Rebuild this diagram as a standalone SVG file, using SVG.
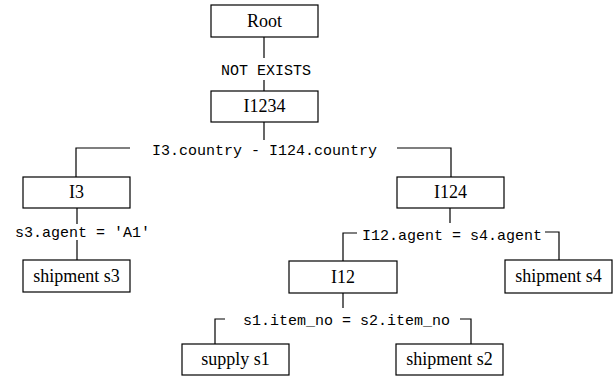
<svg xmlns="http://www.w3.org/2000/svg" width="614" height="377" viewBox="0 0 614 377">
<style>
.box{fill:#fff;stroke:#000;stroke-width:1.2}
.lbl{font-family:"Liberation Serif",serif;font-size:18px;text-anchor:middle;fill:#000}
.cond{font-family:"Liberation Mono",monospace;font-size:15px;fill:#000}
.ln{fill:none;stroke:#000;stroke-width:1.2}
</style>
<rect width="614" height="377" fill="#fff"/>
<g id="connectors">
<line class="ln" x1="264" y1="37" x2="264" y2="58"/>
<text class="cond" x="266" y="75" text-anchor="middle">NOT EXISTS</text>
<line class="ln" x1="264" y1="80" x2="264" y2="91"/>
<line class="ln" x1="264" y1="122" x2="264" y2="140"/>
<text class="cond" x="264.5" y="155" text-anchor="middle">I3.country - I124.country</text>
<polyline class="ln" points="130,148 76,148 76,177"/>
<polyline class="ln" points="397,148 451,148 451,177"/>
<line class="ln" x1="77" y1="208" x2="77" y2="224"/>
<text class="cond" x="15" y="237">s3.agent = 'A1'</text>
<line class="ln" x1="77" y1="240" x2="77" y2="260"/>
<line class="ln" x1="450" y1="208" x2="450" y2="223"/>
<text class="cond" x="362" y="240">I12.agent = s4.agent</text>
<polyline class="ln" points="357,233 343,233 343,261"/>
<polyline class="ln" points="545,232 559,232 559,260"/>
<line class="ln" x1="343" y1="293" x2="343" y2="308"/>
<text class="cond" x="243" y="325">s1.item_no = s2.item_no</text>
<polyline class="ln" points="225,319 215,319 215,344"/>
<polyline class="ln" points="460,319 471,319 471,344"/>
</g>
<g id="root"><rect class="box" x="211" y="5" width="107" height="32"/><text class="lbl" x="264.5" y="27">Root</text></g>
<g id="i1234"><rect class="box" x="211" y="91" width="107" height="31"/><text class="lbl" x="264.5" y="112">I1234</text></g>
<g id="i3"><rect class="box" x="23" y="177" width="107" height="31"/><text class="lbl" x="76.5" y="198">I3</text></g>
<g id="shipment-s3"><rect class="box" x="23" y="260" width="107" height="32"/><text class="lbl" x="76.5" y="282">shipment s3</text></g>
<g id="i124"><rect class="box" x="397" y="177" width="107" height="31"/><text class="lbl" x="450.5" y="198">I124</text></g>
<g id="i12"><rect class="box" x="289" y="261" width="108" height="32"/><text class="lbl" x="343" y="283">I12</text></g>
<g id="shipment-s4"><rect class="box" x="505" y="260" width="107" height="33"/><text class="lbl" x="558.5" y="282">shipment s4</text></g>
<g id="supply-s1"><rect class="box" x="182" y="344" width="107" height="31"/><text class="lbl" x="235.5" y="365">supply s1</text></g>
<g id="shipment-s2"><rect class="box" x="396" y="344" width="107" height="31"/><text class="lbl" x="449.5" y="365">shipment s2</text></g>
</svg>
